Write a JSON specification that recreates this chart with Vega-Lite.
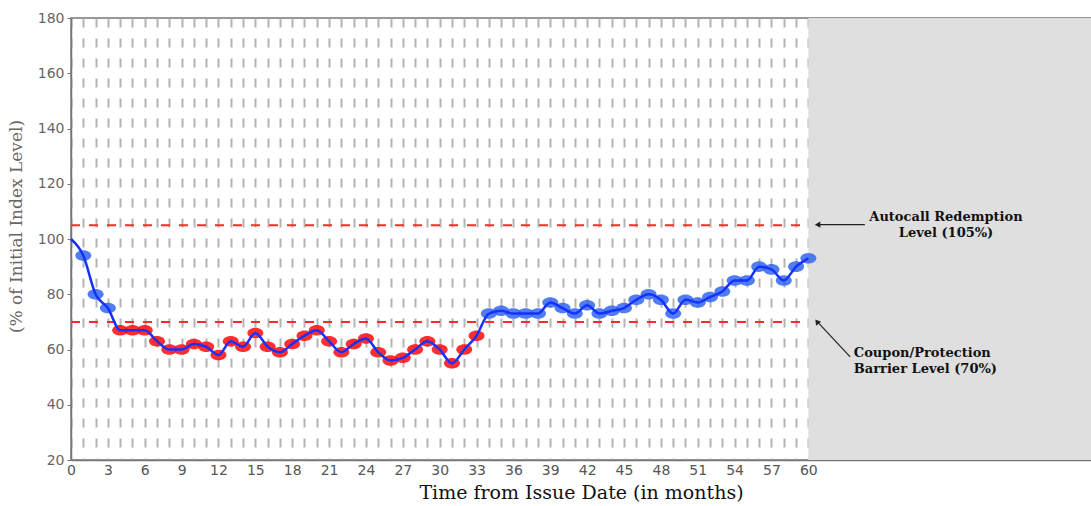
{
  "$schema": "https://vega.github.io/schema/vega-lite/v6.json",
  "width": 1020,
  "height": 442,
  "autosize": {"type": "none"},
  "padding": {"left": 71, "top": 18, "right": 0, "bottom": 46},
  "background": "white",
  "config": {"view": {"stroke": "#777", "strokeWidth": 1.5}},
  "datasets": {
    "series": [
      {"month": 0, "level": 100},
      {"month": 1, "level": 94}, {"month": 2, "level": 80}, {"month": 3, "level": 75},
      {"month": 4, "level": 67}, {"month": 5, "level": 67}, {"month": 6, "level": 67},
      {"month": 7, "level": 63}, {"month": 8, "level": 60}, {"month": 9, "level": 60},
      {"month": 10, "level": 62}, {"month": 11, "level": 61}, {"month": 12, "level": 58},
      {"month": 13, "level": 63}, {"month": 14, "level": 61}, {"month": 15, "level": 66},
      {"month": 16, "level": 61}, {"month": 17, "level": 59}, {"month": 18, "level": 62},
      {"month": 19, "level": 65}, {"month": 20, "level": 67}, {"month": 21, "level": 63},
      {"month": 22, "level": 59}, {"month": 23, "level": 62}, {"month": 24, "level": 64},
      {"month": 25, "level": 59}, {"month": 26, "level": 56}, {"month": 27, "level": 57},
      {"month": 28, "level": 60}, {"month": 29, "level": 63}, {"month": 30, "level": 60},
      {"month": 31, "level": 55}, {"month": 32, "level": 60}, {"month": 33, "level": 65},
      {"month": 34, "level": 73}, {"month": 35, "level": 74}, {"month": 36, "level": 73},
      {"month": 37, "level": 73}, {"month": 38, "level": 73}, {"month": 39, "level": 77},
      {"month": 40, "level": 75}, {"month": 41, "level": 73}, {"month": 42, "level": 76},
      {"month": 43, "level": 73}, {"month": 44, "level": 74}, {"month": 45, "level": 75},
      {"month": 46, "level": 78}, {"month": 47, "level": 80}, {"month": 48, "level": 78},
      {"month": 49, "level": 73}, {"month": 50, "level": 78}, {"month": 51, "level": 77},
      {"month": 52, "level": 79}, {"month": 53, "level": 81}, {"month": 54, "level": 85},
      {"month": 55, "level": 85}, {"month": 56, "level": 90}, {"month": 57, "level": 89},
      {"month": 58, "level": 85}, {"month": 59, "level": 90}, {"month": 60, "level": 93}
    ]
  },
  "layer": [
    {
      "data": {"values": [{"start": 60, "end": 83}]},
      "mark": {"type": "rect", "color": "#dfdfdf"},
      "encoding": {
        "x": {
          "field": "start", "type": "quantitative",
          "scale": {"domain": [0, 83], "nice": false, "zero": false},
          "axis": {
            "values": [0,1,2,3,4,5,6,7,8,9,10,11,12,13,14,15,16,17,18,19,20,21,22,23,24,25,26,27,28,29,30,31,32,33,34,35,36,37,38,39,40,41,42,43,44,45,46,47,48,49,50,51,52,53,54,55,56,57,58,59,60],
            "tickCount": 200,
            "format": "d",
            "labelExpr": "datum.value % 3 == 0 ? datum.label : ''",
            "ticks": false,
            "grid": true,
            "gridDash": [9, 11],
            "gridColor": "#b4b4b4",
            "gridWidth": 2,
            "gridOpacity": 1,
            "domainColor": "#777",
            "domainWidth": 1.5,
            "labelFont": "DejaVu Sans",
            "labelFontSize": 14,
            "labelColor": "#555",
            "labelPadding": 3,
            "labelFlush": false,
            "labelOverlap": false,
            "title": "Time from Issue Date (in months)",
            "titleFont": "DejaVu Serif",
            "titleFontSize": 19,
            "titleFontWeight": "normal",
            "titleColor": "#111",
            "titlePadding": 6
          }
        },
        "x2": {"field": "end"},
        "y": {
          "datum": 20, "type": "quantitative",
          "scale": {"domain": [20, 180], "nice": false, "zero": false},
          "axis": {
            "values": [20, 40, 60, 80, 100, 120, 140, 160, 180],
            "format": "d",
            "grid": false,
            "ticks": true,
            "tickSize": 4,
            "tickColor": "#777",
            "domainColor": "#777",
            "domainWidth": 1.5,
            "labelFont": "DejaVu Sans",
            "labelFontSize": 14,
            "labelColor": "#666",
            "labelPadding": 3,
            "title": "(% of Initial Index Level)",
            "titleFont": "DejaVu Serif",
            "titleFontSize": 17,
            "titleFontWeight": "normal",
            "titleColor": "#666",
            "titlePadding": 12,
            "titleY": 208
          }
        },
        "y2": {"datum": 180}
      }
    },
    {
      "data": {"values": [{"level": 105}, {"level": 70}]},
      "mark": {"type": "rule", "color": "#ff2a2a", "strokeWidth": 2, "strokeDash": [9, 9]},
      "encoding": {
        "x": {"datum": 0, "type": "quantitative"},
        "x2": {"datum": 60},
        "y": {"field": "level", "type": "quantitative"}
      }
    },
    {
      "data": {"name": "series"},
      "transform": [{"filter": "datum.month > 0"}],
      "mark": {
        "type": "point",
        "filled": true,
        "size": 256,
        "opacity": 0.85,
        "shape": "M -1 0 A 1 0.66 0 1 1 1 0 A 1 0.66 0 1 1 -1 0 Z"
      },
      "encoding": {
        "x": {"field": "month", "type": "quantitative"},
        "y": {"field": "level", "type": "quantitative"},
        "color": {
          "condition": {"test": "datum.level < 70", "value": "#ff0a0a"},
          "value": "#3366f0"
        }
      }
    },
    {
      "data": {"name": "series"},
      "mark": {"type": "line", "interpolate": "monotone", "color": "#1530ff", "strokeWidth": 2.5},
      "encoding": {
        "x": {"field": "month", "type": "quantitative"},
        "y": {"field": "level", "type": "quantitative"}
      }
    },
    {
      "data": {"values": [
        {"x1": 64.6, "y1": 105.2, "x2": 60.9, "y2": 105.2},
        {"x1": 63.4, "y1": 57.3, "x2": 60.8, "y2": 69.7}
      ]},
      "mark": {"type": "rule", "color": "#222", "strokeWidth": 1.2},
      "encoding": {
        "x": {"field": "x1", "type": "quantitative"},
        "y": {"field": "y1", "type": "quantitative"},
        "x2": {"field": "x2"},
        "y2": {"field": "y2"}
      }
    },
    {
      "data": {"values": [
        {"x": 60.75, "y": 105.2, "ang": 270},
        {"x": 60.7, "y": 70.1, "ang": 322}
      ]},
      "mark": {"type": "point", "shape": "triangle-up", "filled": true, "size": 40, "color": "#222", "opacity": 1},
      "encoding": {
        "x": {"field": "x", "type": "quantitative"},
        "y": {"field": "y", "type": "quantitative"},
        "angle": {"field": "ang", "type": "quantitative", "scale": null}
      }
    },
    {
      "data": {"values": [
        {"x": 71.2, "y": 108.0, "label": "Autocall Redemption"},
        {"x": 71.2, "y": 102.2, "label": "Level (105%)"}
      ]},
      "mark": {"type": "text", "font": "DejaVu Serif", "fontWeight": "bold", "fontSize": 13, "color": "#111", "align": "center", "baseline": "middle"},
      "encoding": {
        "x": {"field": "x", "type": "quantitative"},
        "y": {"field": "y", "type": "quantitative"},
        "text": {"field": "label"}
      }
    },
    {
      "data": {"values": [
        {"x": 63.7, "y": 58.7, "label": "Coupon/Protection"},
        {"x": 63.7, "y": 52.9, "label": "Barrier Level (70%)"}
      ]},
      "mark": {"type": "text", "font": "DejaVu Serif", "fontWeight": "bold", "fontSize": 13, "color": "#111", "align": "left", "baseline": "middle"},
      "encoding": {
        "x": {"field": "x", "type": "quantitative"},
        "y": {"field": "y", "type": "quantitative"},
        "text": {"field": "label"}
      }
    }
  ]
}
